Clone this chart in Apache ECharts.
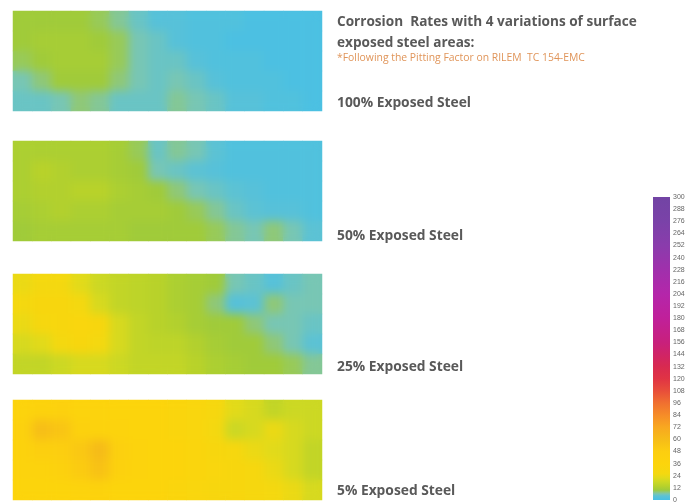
<!DOCTYPE html>
<html><head><meta charset="utf-8">
<script src="https://cdn.jsdelivr.net/npm/echarts@6/dist/echarts.min.js"></script>
<style>
html,body{margin:0;padding:0;background:#fff}
#wrap{position:relative;width:691px;height:504px}
#c,#b{position:absolute;left:0;top:0;width:691px;height:504px}
#b{filter:blur(5px);pointer-events:none;
clip-path:path('M13 11 H322 V111 H13 Z M13 141 H322 V241 H13 Z M13 274 H322 V374 H13 Z M13 400 H322 V500 H13 Z');}
</style>
</head><body><div id="wrap"><div id="c"></div><div id="b"></div></div>
<script>
// ---- data ----
const panelLabels = ['100% Exposed Steel', '50% Exposed Steel', '25% Exposed Steel', '5% Exposed Steel'];
const titleLine1 = 'Corrosion  Rates with 4 variations of surface';
const titleLine2 = 'exposed steel areas:';
const noteLine = '*Following the Pitting Factor on RILEM  TC 154-EMC';
const colCats = ['1','2','3','4','5','6','7','8','9','10','11','12','13','14','15','16'];
const rowCats = ['A','B','C','D','E'];
const scaleTicks = [0,12,24,36,48,60,72,84,96,108,120,132,144,156,168,180,192,204,216,228,240,252,264,276,288,300];

const exposed100 = [
  [10,10,10,10, 9, 7, 5, 3, 3, 2, 2, 2, 1, 1, 1, 1],
  [10,11,11,11,10, 9, 6, 5, 3, 2, 2, 1, 1, 1, 1, 1],
  [ 9,10,11,11,11, 9, 6, 5, 5, 3, 2, 2, 2, 1, 1, 1],
  [ 6, 8,10,10,10, 8, 6, 5, 6, 5, 3, 2, 2, 2, 1, 1],
  [ 5, 5, 6, 8, 7, 5, 5, 5, 7, 6, 5, 3, 3, 2, 2, 1]
];
const exposed50 = [
  [12,12,12,12,12,11, 9, 5, 7, 6, 4, 2, 2, 2, 2, 2],
  [12,14,13,12,12,11,10, 6, 5, 4, 3, 2, 2, 2, 2, 2],
  [12,13,13,14,14,12,11,10, 8, 6, 5, 4, 3, 2, 2, 2],
  [11,12,13,12,12,11,11,11,10, 9, 7, 5, 4, 3, 3, 2],
  [10,11,11,11,11,11,10,10,10,10, 9, 7, 6, 8, 6, 4]
];
const exposed25 = [
  [24,26,26,22,18,16,15,14,12,11,10, 6, 5, 3, 5, 6],
  [26,30,30,26,20,16,15,14,12,11, 8, 3, 4, 8, 6, 6],
  [24,28,30,32,30,20,16,14,13,11,10,10, 8, 6, 6, 5],
  [20,22,26,30,26,20,16,15,15,13,11,10,10, 8, 6, 4],
  [16,16,18,20,20,18,16,16,16,14,12,11,10,10, 9, 7]
];
const exposed5 = [
  [38,40,42,38,38,36,36,36,34,32,28,22,20,16,18,18],
  [42,58,54,42,40,38,36,36,34,32,26,18,20,24,20,18],
  [40,46,48,52,60,44,38,36,36,34,30,28,24,22,20,16],
  [38,38,42,50,56,42,38,36,36,34,32,30,28,24,20,16],
  [36,36,36,38,40,36,36,36,34,32,30,30,28,26,24,20]
];
const panels = [exposed100, exposed50, exposed25, exposed5];

// ---- colour ramp ----
const stops = [
  [0,'#46bfe6'],[4,'#5cc2d4'],[6,'#78c6b4'],[8,'#8fc878'],[10,'#a0cb3a'],[14,'#b8d22a'],
  [18,'#ccd824'],[22,'#e2da1a'],[26,'#f4d810'],[36,'#fcd40c'],[48,'#fcce10'],[60,'#f6bc18'],
  [72,'#f8a820'],[84,'#f68c28'],[96,'#f07030'],[108,'#e84e3a'],[120,'#e03444'],[132,'#d82a50'],
  [144,'#d02466'],[156,'#c8207c'],[180,'#c0209a'],[204,'#b426aa'],[228,'#a030ac'],[252,'#8a3cac'],
  [276,'#7a42a8'],[300,'#7244a4']
];
function hex(c){return [1,3,5].map(i=>parseInt(c.substr(i,2),16));}
const ramp = [];
for (let v = 0; v <= 300; v++) {
  let k = 0; while (k < stops.length - 2 && stops[k+1][0] < v) k++;
  const [v0,c0] = stops[k], [v1,c1] = stops[k+1];
  const t = Math.max(0, Math.min(1, (v - v0) / (v1 - v0)));
  const a = hex(c0), b = hex(c1);
  ramp.push('rgb(' + a.map((x,i)=>Math.round(x + (b[i]-x)*t)).join(',') + ')');
}

// ---- layout ----
const panelTops = [11, 141, 274, 400];
function heatParts() {
  const grids = [], xAxes = [], yAxes = [], series = [];
  panels.forEach((p, i) => {
    grids.push({left: 13, top: panelTops[i], width: 309, height: 100});
    xAxes.push({type: 'category', gridIndex: i, data: colCats, show: false});
    yAxes.push({type: 'category', gridIndex: i, data: rowCats, show: false, inverse: true});
    const d = [];
    p.forEach((row, r) => row.forEach((v, c) => d.push([c, r, v])));
    series.push({type: 'heatmap', xAxisIndex: i, yAxisIndex: i, data: d,
      itemStyle: {borderWidth: 0}, progressive: 0});
  });
  return {grids, xAxes, yAxes, series};
}
const vm = {type: 'continuous', show: false, min: 0, max: 300, seriesIndex: [0,1,2,3], inRange: {color: ramp}};

// base chart: heatmaps, texts, colour scale
const base = heatParts();
base.grids.push({left: 653, top: 197, width: 17, height: 303});
base.xAxes.push({type: 'value', gridIndex: 4, show: false});
base.yAxes.push({type: 'value', gridIndex: 4, min: 0, max: 300, interval: 12, position: 'right',
  axisLine: {show: false}, axisTick: {show: false}, splitLine: {show: false},
  axisLabel: {fontSize: 7, color: '#666', margin: 3, fontFamily: '"Liberation Sans Narrow", "Liberation Sans"',
    customValues: scaleTicks}});

const textColor = '#595959';
const font = '"Open Sans", Lato, sans-serif';
const labelYs = [103, 236, 367, 491];
const graphic = [
  {type: 'text', x: 337, y: 22, style: {text: titleLine1, font: 'bold 13.6px ' + font, fill: textColor, verticalAlign: 'middle'}},
  {type: 'text', x: 337, y: 43, style: {text: titleLine2, font: 'bold 13.6px ' + font, fill: textColor, verticalAlign: 'middle'}},
  {type: 'text', x: 337, y: 58, style: {text: noteLine, font: '10.4px ' + font, fill: '#e0955a', verticalAlign: 'middle'}},
  {type: 'rect', shape: {x: 653, y: 197, width: 17, height: 303},
    style: {fill: new echarts.graphic.LinearGradient(0, 1, 0, 0,
      stops.map(s => ({offset: s[0] / 300, color: s[1]})))}}
];
panelLabels.forEach((t, i) => graphic.push({type: 'text', x: 337, y: labelYs[i],
  style: {text: t, font: 'bold 13.8px ' + font, fill: textColor, verticalAlign: 'middle'}}));

const chart = echarts.init(document.getElementById('c'));
chart.setOption({
  animation: false, backgroundColor: '#fff',
  grid: base.grids, xAxis: base.xAxes, yAxis: base.yAxes, series: base.series,
  visualMap: vm, graphic: graphic
});

// smoothing overlay: same heatmaps, softened by a CSS blur and clipped to the panels
const ov = heatParts();
const chart2 = echarts.init(document.getElementById('b'));
chart2.setOption({
  animation: false,
  grid: ov.grids, xAxis: ov.xAxes, yAxis: ov.yAxes, series: ov.series, visualMap: vm
});
</script></body></html>
